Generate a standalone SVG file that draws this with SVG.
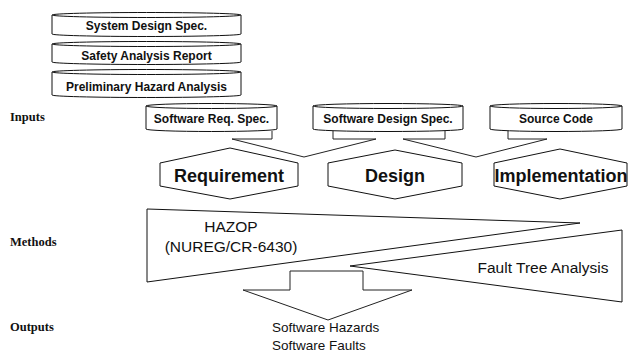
<svg xmlns="http://www.w3.org/2000/svg" width="630" height="358" viewBox="0 0 630 358">
  <style>
    .shape { fill: #fff; stroke: #111; stroke-width: 1; stroke-linejoin: round; }
    .arrow { fill: none; stroke: #222; stroke-width: 1; stroke-linejoin: round; }
    .cyl-text { font-family: "Liberation Sans", Arial, sans-serif; font-weight: bold; font-size: 12px; fill: #111; text-anchor: middle; }
    .phase-text { font-family: "Liberation Sans", Arial, sans-serif; font-weight: bold; font-size: 18px; fill: #111; text-anchor: middle; }
    .method-text { font-family: "Liberation Sans", Arial, sans-serif; font-size: 15.5px; fill: #111; text-anchor: middle; }
    .out-text { font-family: "Liberation Sans", Arial, sans-serif; font-size: 13.5px; fill: #111; }
    .row-label { font-family: "Liberation Serif", "Times New Roman", serif; font-weight: bold; font-size: 12.5px; fill: #111; }
  </style>

  <!-- row labels -->
  <text class="row-label" x="10" y="121">Inputs</text>
  <text class="row-label" x="10" y="246">Methods</text>
  <text class="row-label" x="10" y="331">Outputs</text>

  <!-- block arrows joining the layers -->
  <g id="connectors">
    <path class="arrow" d="M272,131 L272,139 L232,139 L304,157 L376,139 L333,139 L333,131"/>
    <path class="arrow" d="M445,131 L445,139 L403,139 L476,157 L547,139 L508,139 L508,131"/>
    <path class="arrow" d="M290,271 L363,271 L363,290 L412,290 L328,320 L243,290 L290,290 Z"/>
  </g>

  <!-- system level documents -->
  <g id="system-design-spec">
    <path class="shape" d="M52,15 L52,34 A94.5,2.5 0 0 0 241,34 L241,15"/>
    <ellipse class="shape" cx="146.5" cy="15" rx="94.5" ry="2.5"/>
    <text class="cyl-text" x="146.5" y="30">System Design Spec.</text>
  </g>
  <g id="safety-analysis-report">
    <path class="shape" d="M52,44 L52,62 A94.5,2.5 0 0 0 241,62 L241,44"/>
    <ellipse class="shape" cx="146.5" cy="44" rx="94.5" ry="2.5"/>
    <text class="cyl-text" x="146.5" y="60">Safety Analysis Report</text>
  </g>
  <g id="preliminary-hazard-analysis">
    <path class="shape" d="M52,72 L52,95 A94.5,2.5 0 0 0 241,95 L241,72"/>
    <ellipse class="shape" cx="146.5" cy="72" rx="94.5" ry="2.5"/>
    <text class="cyl-text" x="146.5" y="91">Preliminary Hazard Analysis</text>
  </g>

  <!-- software artefacts -->
  <g id="software-req-spec">
    <path class="shape" d="M146,106 L146,129 A65.5,2.5 0 0 0 277,129 L277,106"/>
    <ellipse class="shape" cx="211.5" cy="106" rx="65.5" ry="2.5"/>
    <text class="cyl-text" x="211.5" y="123">Software Req. Spec.</text>
  </g>
  <g id="software-design-spec">
    <path class="shape" d="M313,106 L313,129 A75,2.5 0 0 0 463,129 L463,106"/>
    <ellipse class="shape" cx="388" cy="106" rx="75" ry="2.5"/>
    <text class="cyl-text" x="388" y="123">Software Design Spec.</text>
  </g>
  <g id="source-code">
    <path class="shape" d="M490,106 L490,129 A66,2.5 0 0 0 622,129 L622,106"/>
    <ellipse class="shape" cx="556" cy="106" rx="66" ry="2.5"/>
    <text class="cyl-text" x="556" y="123">Source Code</text>
  </g>

  <!-- life-cycle phases -->
  <g id="requirement">
    <polygon class="shape" points="160,163 230,148 298,163 298,186 230,199 160,186"/>
    <text class="phase-text" x="229" y="182">Requirement</text>
  </g>
  <g id="design">
    <polygon class="shape" points="328,163 395,150 462,163 462,186 395,199 328,186"/>
    <text class="phase-text" x="395" y="182">Design</text>
  </g>
  <g id="implementation">
    <polygon class="shape" points="494,163 560,149 627,163 627,186 560,199 494,186"/>
    <text class="phase-text" x="561" y="182">Implementation</text>
  </g>

  <!-- analysis methods -->
  <g id="hazop">
    <polygon class="shape" points="147,209 580,223 147,282"/>
    <text class="method-text" x="231" y="232">HAZOP</text>
    <text class="method-text" x="231" y="252">(NUREG/CR-6430)</text>
  </g>
  <g id="fault-tree-analysis">
    <polygon class="shape" points="350,266 622,230 622,302"/>
    <text class="method-text" x="543" y="273">Fault Tree Analysis</text>
  </g>

  <!-- results -->
  <g id="outputs">
    <text class="out-text" x="272" y="332">Software Hazards</text>
    <text class="out-text" x="272" y="350">Software Faults</text>
  </g>
</svg>
